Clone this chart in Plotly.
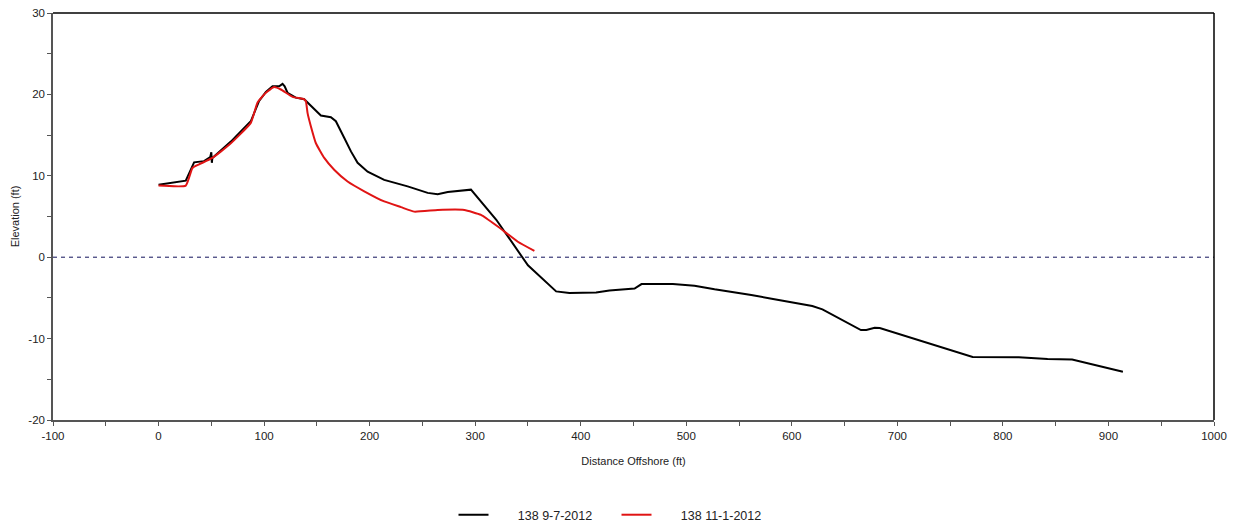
import plotly.graph_objects as go

# Series 1: 138 9-7-2012 (black)
x_sep = [0, 11.6, 25.8, 33.7, 43.1, 49, 50, 50.5, 51, 68.5, 87.4, 95.3, 101.7, 108, 114.3, 117.5, 119.5,
         122.2, 130, 138, 145, 153.8, 163.3, 168, 176, 182.3, 188.6, 198.1, 213.8, 236, 255,
         264.5, 274, 290, 296, 320, 337, 350, 376.7, 389.3, 414.6, 427.2, 451, 457.6, 487.3, 507.8,
         526.8, 546.3, 561.6, 580.9, 619.4, 629, 647, 665.5, 670.6, 678.5, 683.3, 716.4, 771.3, 815,
         842.3, 865.6, 913.7]
y_sep = [8.9, 9.1, 9.4, 11.65, 11.8, 12.3, 12.9, 11.6, 12.2, 14.2, 16.7, 19.2, 20.3, 21.0, 21.0, 21.3, 21.0,
         20.2, 19.6, 19.4, 18.5, 17.4, 17.2, 16.7, 14.65, 13.0, 11.6, 10.5, 9.5, 8.7, 7.9,
         7.75, 8.0, 8.2, 8.3, 4.6, 1.4, -1.0, -4.2, -4.4, -4.35, -4.1, -3.85, -3.3, -3.3, -3.5,
         -3.95, -4.3, -4.65, -5.1, -6.0, -6.4, -7.7, -8.95, -8.95, -8.67, -8.7, -10.0, -12.25, -12.3,
         -12.5, -12.56, -14.08]

# Series 2: 138 11-1-2012 (red)
x_nov = [0, 25.8, 32.1, 38.4, 51, 66.9, 87.4, 93.8, 101.7, 109.5, 115.9, 127, 138, 139.6, 141.2, 144.3,
         149.1, 157, 166.4, 179.1, 194.9, 213.8, 229.7, 242.3, 264.5, 289.7, 305.5, 321.4, 340.4, 356.1]
y_nov = [8.8, 8.8, 10.96, 11.4, 12.2, 13.8, 16.5, 19.0, 20.2, 20.9, 20.6, 19.7, 19.4, 19.16, 17.7, 16.1,
         14.0, 12.2, 10.75, 9.3, 8.1, 6.85, 6.15, 5.6, 5.8, 5.8, 5.2, 3.77, 1.9, 0.78]

series_names = ["138 9-7-2012", "138 11-1-2012"]
series_colors = ["#000000", "#e01414"]

x_tickvals = [-100, 0, 100, 200, 300, 400, 500, 600, 700, 800, 900, 1000]
x_ticktext = ["-100", "0", "100", "200", "300", "400", "500", "600", "700", "800", "900", "1000"]
y_tickvals = [-20, -10, 0, 10, 20, 30]
y_ticktext = ["-20", "-10", "0", "10", "20", "30"]

x_title = "Distance Offshore (ft)"
y_title = "Elevation (ft)"

font = "Arial, Liberation Sans, sans-serif"
pad = "\u00a0" * 7

fig = go.Figure()
fig.add_trace(go.Scatter(x=x_sep, y=y_sep, mode="lines", name=pad + series_names[0],
                         line=dict(color=series_colors[0], width=2)))
fig.add_trace(go.Scatter(x=x_nov, y=y_nov, mode="lines", name=pad + series_names[1],
                         line=dict(color=series_colors[1], width=2, shape="spline", smoothing=0.4)))

# zero reference line
fig.add_shape(type="line", xref="paper", yref="y", x0=0, x1=1, y0=0, y1=0,
              line=dict(color="#10105a", width=1, dash="4px,4px"), layer="below")
# top and right frame
fig.add_shape(type="line", xref="paper", yref="paper", x0=0, x1=1, y0=1, y1=1,
              line=dict(color="#000000", width=1.5))
fig.add_shape(type="line", xref="paper", yref="paper", x0=1, x1=1, y0=0, y1=1,
              line=dict(color="#000000", width=1.5))

fig.update_layout(
    width=1233, height=524,
    margin=dict(l=53, r=19, t=13, b=104),
    paper_bgcolor="white", plot_bgcolor="white",
    font=dict(family=font, size=11, color="#222222"),
    showlegend=True,
    legend=dict(orientation="h", x=0.5, xanchor="center", xref="container",
                y=0.017, yanchor="middle", yref="container",
                font=dict(size=12.5, color="#222222"), entrywidth=118, tracegroupgap=0),
    xaxis=dict(range=[-100, 1000], tickmode="array", tickvals=x_tickvals, ticktext=x_ticktext,
               showgrid=False, zeroline=False, automargin=False,
               showline=True, linecolor="#555555", linewidth=1.5,
               ticks="outside", ticklen=4, tickcolor="#555555",
               minor=dict(dtick=50, tick0=0, ticks="outside", ticklen=4, tickcolor="#555555"),
               title=dict(text=x_title, standoff=17, font=dict(size=11)),
               tickfont=dict(size=11.5, color="#222222")),
    yaxis=dict(range=[-20, 30], tickmode="array", tickvals=y_tickvals, ticktext=y_ticktext,
               showgrid=False, zeroline=False, automargin=False,
               showline=True, linecolor="#555555", linewidth=1.5,
               ticks="outside", ticklen=4, tickcolor="#555555",
               minor=dict(dtick=5, tick0=0, ticks="outside", ticklen=4, tickcolor="#555555"),
               title=dict(text=y_title, standoff=6, font=dict(size=11)),
               tickfont=dict(size=11.5, color="#222222")),
)

fig.write_html("out.html", config={"displayModeBar": False},
               post_script="document.body.style.margin='0';document.body.style.overflow='hidden';")
